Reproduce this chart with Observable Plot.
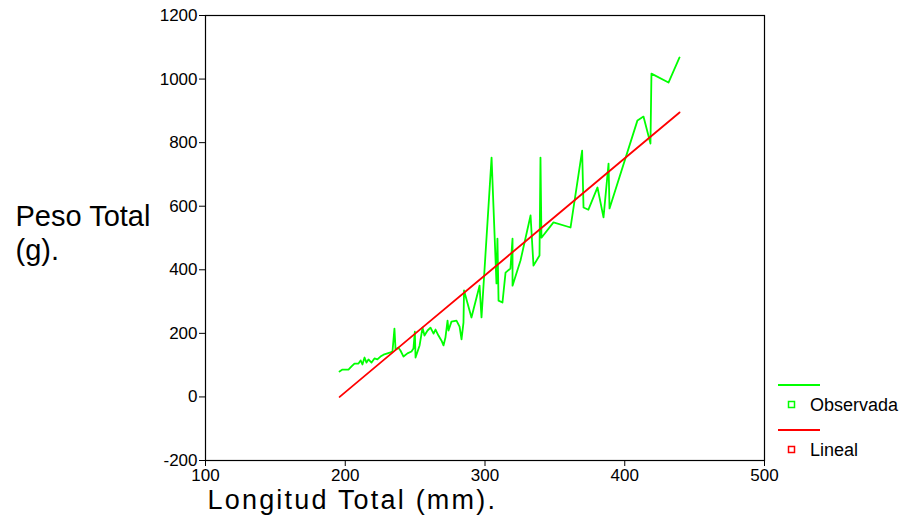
<!DOCTYPE html>
<html>
<head>
<meta charset="utf-8">
<script src="https://cdn.jsdelivr.net/npm/d3@7"></script>
<script src="https://cdn.jsdelivr.net/npm/@observablehq/plot@0.6"></script>
<style>
  html, body { margin: 0; padding: 0; background: #fff; }
  #chart { width: 904px; height: 520px; }
</style>
</head>
<body>
<div id="chart"></div>
<script>
// Observed values (Longitud Total mm, Peso Total g)
const obsX = [195.9,198,202.3,204.5,206.6,209.5,211,212.3,213.8,215.2,216.6,218.8,220.9,223,225.2,227.4,230.2,232.4,233.8,235.2,236,238,239.5,241.7,244.5,247.4,248.8,249.8,250.3,253.2,255.3,256.7,258.9,261,263.2,264.6,266.7,268.9,270.3,271.7,273.2,273.9,276,279.6,281.8,283.2,284.6,285,290.3,296.1,297.5,304.7,308.2,308.9,309.7,312.5,314.7,318.2,319.7,319.7,325.4,332.6,334.7,339,339.7,340.4,349,361.2,369.5,370.5,374,380.5,384.8,388.4,389.1,409.1,413.4,418.4,419.1,431.3,439.2];
const obsY = [80,86,86,96,105,105,115,102,124,108,118,108,121,118,127,133,137,140,143,215,149,155,146,127,137,143,152,205,124,162,218,193,209,218,199,212,193,177,162,187,240,209,237,240,221,181,234,335,250,350,250,753,357,498,303,297,391,404,498,350,429,571,413,445,753,501,549,533,775,596,589,659,565,734,593,870,882,797,1017,989,1068];
// Linear fit
const linX = [196, 250, 300, 350, 400, 439.2];
const linY = [0, 199, 383, 567, 751, 895];
// Ticks and labels
const xTicks = [100, 200, 300, 400, 500];
const yTicks = [-200, 0, 200, 400, 600, 800, 1000, 1200];
const xLabel = "Longitud Total (mm).";
const yLabel = "Peso Total\n(g).";
const seriesNames = ["Observada", "Lineal"];
const seriesColors = ["#00ff00", "#ff0000"];

const obs = obsX.map((x, i) => ({x, y: obsY[i]}));
const lin = linX.map((x, i) => ({x, y: linY[i]}));

const chart = Plot.plot({
  width: 904,
  height: 520,
  marginLeft: 205,
  marginRight: 140,
  marginTop: 15,
  marginBottom: 60,
  style: {fontFamily: "'Liberation Sans', Arial, sans-serif", fontSize: "17px", color: "#000", background: "#fff", overflow: "visible"},
  x: {domain: [100, 500]},
  y: {domain: [-200, 1200]},
  marks: [
    Plot.frame({stroke: "#000", strokeWidth: 1.2}),
    Plot.axisX({ticks: xTicks, tickSize: 6, tickPadding: 2, label: null, tickFormat: d => String(d), fontSize: 17}),
    Plot.axisY({ticks: yTicks, tickSize: 6, tickPadding: 2, label: null, tickFormat: d => String(d), fontSize: 17}),
    Plot.line(obs, {x: "x", y: "y", stroke: seriesColors[0], strokeWidth: 1.8}),
    Plot.line(lin, {x: "x", y: "y", stroke: seriesColors[1], strokeWidth: 1.8}),
    Plot.text([xLabel], {frameAnchor: "bottom-left", textAnchor: "start", dx: 2, dy: 48, fontSize: 27, className: "xlab"}),
    Plot.text([yLabel], {frameAnchor: "left", textAnchor: "start", dx: -190, dy: -6, fontSize: 29, lineHeight: 1.18})
  ]
});
document.getElementById("chart").appendChild(chart);

// Widen the x label a little, as in the reference
d3.select(chart).selectAll("text").filter(function() { return this.textContent === xLabel; })
  .style("letter-spacing", "2.2px");

// Legend
const svg = d3.select(chart);
const leg = svg.append("g")
  .attr("font-family", "'Liberation Sans', Arial, sans-serif")
  .attr("font-size", 18)
  .attr("text-anchor", "start");
seriesNames.forEach((name, i) => {
  const y0 = 385 + i * 45;
  leg.append("line").attr("x1", 778).attr("x2", 820).attr("y1", y0).attr("y2", y0)
    .attr("stroke", seriesColors[i]).attr("stroke-width", 2);
  leg.append("rect").attr("x", 788.5).attr("y", y0 + 16.5).attr("width", 6).attr("height", 6)
    .attr("fill", "none").attr("stroke", seriesColors[i]).attr("stroke-width", 1.5);
  leg.append("text").attr("x", 810).attr("y", y0 + 20).attr("dy", "0.35em")
    .attr("text-anchor", "start").attr("fill", "#000").text(name);
});
</script>
</body>
</html>
